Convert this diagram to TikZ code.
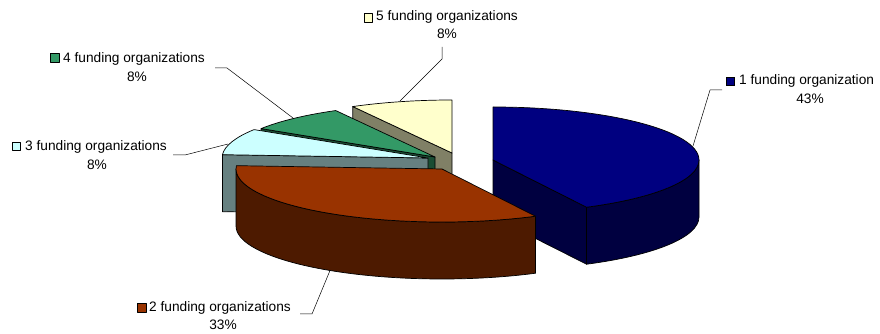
\documentclass[tikz,border=0pt]{standalone}
\usepackage{fontspec}
\setmainfont{Liberation Sans}
\definecolor{navytop}{HTML}{000080}
\definecolor{navyside}{HTML}{000040}
\definecolor{browntop}{HTML}{993300}
\definecolor{brownside}{HTML}{4D1A00}
\definecolor{cyantop}{HTML}{CCFFFF}
\definecolor{cyanside}{HTML}{668080}
\definecolor{greentop}{HTML}{339966}
\definecolor{greenside}{HTML}{1A4D33}
\definecolor{yellowtop}{HTML}{FFFFCC}
\definecolor{yellowside}{HTML}{808066}
\newcommand{\pietop}[4]{%
  \path[face, fill=#4] (#1) -- ++(#2:206pt and 53pt)
    arc[start angle=#2, end angle=#3, x radius=206pt, y radius=53pt] -- cycle;}
\newcommand{\pieradial}[3]{%
  \path[face, fill=#3] (#1) -- ++(#2:206pt and 53pt) -- ++(0,-57pt)
    -- ([yshift=-57pt]#1) -- cycle;}
\newcommand{\pieouter}[4]{%
  \path[face, fill=#4] (#1) ++(#2:206pt and 53pt)
    arc[start angle=#2, end angle=#3, x radius=206pt, y radius=53pt]
    -- ++(0,-57pt)
    arc[start angle=#3, end angle=#2, x radius=206pt, y radius=53pt] -- cycle;}
\begin{document}
\begin{tikzpicture}[x=1pt,y=1pt, line join=round,
  face/.style={draw=black, line width=0.7pt},
  leader/.style={draw=black, line width=0.5pt},
  key/.style={draw=black, line width=0.6pt, minimum size=8.5pt, inner sep=0pt},
  lbl/.style={font=\fontsize{13.7}{16}\selectfont, inner sep=0pt, anchor=west},
  pct/.style={font=\fontsize{13.7}{16}\selectfont, inner sep=0pt}]
\useasboundingbox (0,0) rectangle (880,334);
% slice centres
\coordinate (c1) at (493,174);
\coordinate (c2) at (442,165);
\coordinate (c3) at (428,176);
\coordinate (c4) at (435,177);
\coordinate (c5) at (452,181);
% 5 funding organizations (yellow)
\pieradial{c5}{118.8}{yellowside}
\pietop{c5}{118.8}{90}{yellowtop}
% 4 funding organizations (green)
\pieradial{c4}{147.6}{greenside}
\pietop{c4}{147.6}{118.8}{greentop}
% 3 funding organizations (cyan)
\pieradial{c3}{176.4}{cyanside}
\pietop{c3}{176.4}{147.6}{cyantop}
% 1 funding organization (blue)
\pieradial{c1}{-63}{navyside}
\pieouter{c1}{0}{-63}{navyside}
\pietop{c1}{90}{-63}{navytop}
% 2 funding organizations (brown)
\pieouter{c2}{-63}{-180}{brownside}
\pietop{c2}{-63}{-183.6}{browntop}
% labels
\node[key, fill=navytop] (k1) at (730.5,252.5) {};
\node[lbl] (t1) at (739,253) {1 funding organization};
\node[pct] (p1) at (810,235) {43\%};
\node[key, fill=browntop] (k2) at (142,26) {};
\node[lbl] (t2) at (149,26) {2 funding organizations};
\node[pct] (p2) at (223,9) {33\%};
\node[key, fill=cyantop] (k3) at (16.5,187.5) {};
\node[lbl] (t3) at (25,187) {3 funding organizations};
\node[pct] (p3) at (97,169) {8\%};
\node[key, fill=greentop] (k4) at (55,276) {};
\node[lbl] (t4) at (63,275) {4 funding organizations};
\node[pct] (p4) at (137,257) {8\%};
\node[key, fill=yellowtop] (k5) at (368.5,316) {};
\node[lbl] (t5) at (376,317) {5 funding organizations};
\node[pct] (p5) at (447,300) {8\%};
% leader lines
\coordinate (l1a) at (722,244); \coordinate (l1b) at (710,244); \coordinate (l1c) at (693,188);
\draw[leader] (l1a) -- (l1b) -- (l1c);
\coordinate (l2a) at (300,20); \coordinate (l2b) at (312,20); \coordinate (l2c) at (330,63.5);
\draw[leader] (l2a) -- (l2b) -- (l2c);
\coordinate (l3a) at (173,179); \coordinate (l3b) at (185,179); \coordinate (l3c) at (228,190);
\draw[leader] (l3a) -- (l3b) -- (l3c);
\coordinate (l4a) at (215,266); \coordinate (l4b) at (227,266); \coordinate (l4c) at (293,216);
\draw[leader] (l4a) -- (l4b) -- (l4c);
\coordinate (l5a) at (442,287); \coordinate (l5b) at (442,275); \coordinate (l5c) at (400,233);
\draw[leader] (l5a) -- (l5b) -- (l5c);
\end{tikzpicture}
\end{document}
